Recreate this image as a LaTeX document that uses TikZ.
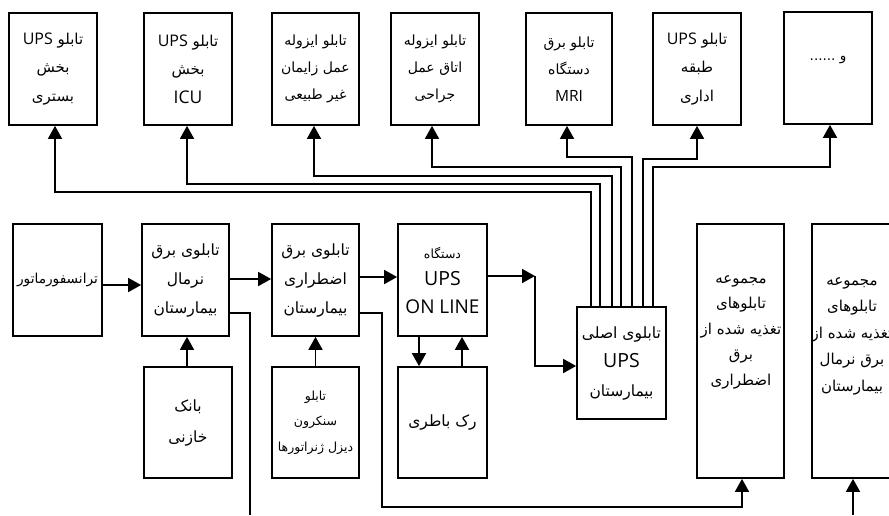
\documentclass[tikz,border=0pt]{standalone}
\usepackage{fontspec}
\setmainfont{Open Sans}
\newfontfamily\arabicfont[Script=Arabic]{DejaVu Sans}
\newfontfamily\latfont{Open Sans}
\TeXXeTstate=1
\usetikzlibrary{arrows.meta}
\newcommand\fa[1]{{\arabicfont\beginR #1\endR}}
\newcommand\la[2][16]{\beginL{\latfont\fontsize{#1}{#1}\selectfont #2}\endL}
\newcommand\fsz[2]{\fontsize{#1}{#2}\selectfont}
\begin{document}
\begin{tikzpicture}[x=1pt,y=-1pt,
  box/.style={draw, line width=1.7pt, rectangle, inner sep=0pt, align=center,
    font=\fsz{15}{28.5}},
  smallbox/.style={box, font=\fsz{14}{27}},
  ln/.style={line width=1.7pt},
  arr/.style={line width=1.7pt, -{Triangle[length=13pt,width=14pt]}},
  txt/.style={inner sep=0pt, align=center}
]
\useasboundingbox (0,0) rectangle (889,515);
\clip (0,0) rectangle (889,515);

% top row
\node[box, minimum width=88pt, minimum height=112pt] (b1) at (53,69)
  {\fa{تابلو \la{UPS}}\\ \fa{بخش}\\ \fa{بستری}};
\node[box, minimum width=88pt, minimum height=112pt] (b2) at (188,69)
  {\fa{تابلو \la{UPS}}\\ \fa{بخش}\\ \la[17.5]{ICU}};
\node[smallbox, minimum width=87pt, minimum height=112pt] (b3) at (315.5,69)
  {\fa{تابلو ایزوله}\\ \fa{عمل زایمان}\\ \fa{غیر طبیعی}};
\node[smallbox, minimum width=88pt, minimum height=112pt] (b4) at (435,69)
  {\fa{تابلو ایزوله}\\ \fa{اتاق عمل}\\ \fa{جراحی}};
\node[smallbox, minimum width=86pt, minimum height=112pt] (b5) at (569,69)
  {\fa{تابلو برق}\\ \fa{دستگاه}\\ \la[15.5]{MRI}};
\node[box, minimum width=88pt, minimum height=112pt] (b6) at (697,69)
  {\fa{تابلو \la{UPS}}\\ \fa{طبقه}\\ \fa{اداری}};
\node[box, minimum width=88pt, minimum height=112pt] (b7) at (828,68) {};
\node[txt, font=\fsz{13.5}{13.5}] (b7t) at (828,60) {\fa{و ......}};

% middle row
\node[box, minimum width=89pt, minimum height=112pt, font=\fsz{13.7}{28}] (tr) at (57.5,280)
  {\fa{ترانسفورماتور}};
\node[box, minimum width=87pt, minimum height=112pt, font=\fsz{15.5}{29}] (nrm) at (185.5,280)
  {\fa{تابلوی برق}\\ \fa{نرمال}\\ \fa{بیمارستان}};
\node[box, minimum width=87pt, minimum height=112pt, font=\fsz{15.5}{29}] (emg) at (315.5,280)
  {\fa{تابلوی برق}\\ \fa{اضطراری}\\ \fa{بیمارستان}};
\node[box, minimum width=89pt, minimum height=112pt, font=\fsz{12.5}{27.5}] (ups) at (442.5,280)
  {\fa{دستگاه}\\ \la[19.5]{UPS}\\ \la[19]{ON LINE}};

% bottom row
\node[box, minimum width=88pt, minimum height=111pt, font=\fsz{15.5}{31}] (bank) at (188,422.5)
  {\fa{بانک}\\ \fa{خازنی}};
\node[box, minimum width=87pt, minimum height=111pt, font=\fsz{12.5}{25.5}] (syn) at (315.5,422.5)
  {\fa{تابلو}\\ \fa{سنکرون}\\ \fa{دیزل ژنراتورها}};
\node[box, minimum width=89pt, minimum height=111pt, font=\fsz{15.5}{20}] (rack) at (442.5,422.5)
  {\fa{رک باطری}};

% main UPS panel
\node[box, minimum width=89pt, minimum height=112pt, font=\fsz{15.5}{29}] (pnl) at (621.5,363)
  {\fa{تابلوی اصلی}\\ \la[19.5]{UPS}\\ \fa{بیمارستان}};

% collections
\node[box, minimum width=87pt, minimum height=254pt] (ec) at (740.5,351) {};
\node[txt, font=\fsz{15}{25.5}] (ect) at (741,332)
  {\fa{مجموعه}\\ \fa{تابلوهای}\\ \fa{تغذیه شده از}\\ \fa{برق}\\ \fa{اضطراری}};
\node[box, minimum width=88pt, minimum height=254pt] (nc) at (856,351) {};
\begin{scope}
  \clip (813,225) rectangle (889,477);
  \node[txt, font=\fsz{15}{26.5}] (nct) at (852,336)
    {\fa{مجموعه}\\ \fa{تابلوهای}\\ \fa{تغذیه شده از}\\ \fa{برق نرمال}\\ \fa{بیمارستان}};
\end{scope}

% main chain
\draw[arr] (tr.east |- 0,285) -- (nrm.west |- 0,285);
\draw[arr] (nrm.east |- 0,279) -- (emg.west |- 0,279);
\draw[arr] (emg.east |- 0,277) -- (ups.west |- 0,277);
\coordinate (j) at (535,276);
\draw[arr] (ups.east |- j) -- (j);
\draw[arr] (j) |- (pnl.west |- 0,366);
\draw[arr] (bank.north -| 187,0) -- (nrm.south -| 187,0);
\draw[arr] (syn.north) -- (emg.south);
\draw[arr] (ups.south -| 419,0) -- (rack.north -| 419,0);
\draw[arr] (rack.north -| 462,0) -- (ups.south -| 462,0);

% outgoing feeders
\coordinate (nout) at (250,515);
\draw[ln] (nrm.east |- 0,313) -| (nout);
\draw[arr] (emg.east |- 0,313) -| (382,507) -| (ec.south -| 742,0);
\coordinate (ncin) at (853,515);
\draw[arr] (ncin) -- (nc.south -| ncin);

% UPS panel to top boards
\draw[arr] ([xshift=15pt]pnl.north west) -- ++(0,-114) -| ([xshift=2pt]b1.south);
\draw[arr] ([xshift=24pt]pnl.north west) -- ++(0,-122) -| ([xshift=-1pt]b2.south);
\draw[arr] ([xshift=36pt]pnl.north west) -- ++(0,-130) -| ([xshift=-1.5pt]b3.south);
\draw[arr] ([xshift=45pt]pnl.north west) -- ++(0,-139) -| ([xshift=-3pt]b4.south);
\draw[arr] ([xshift=56pt]pnl.north west) -- ++(0,-149) -| ([xshift=-2pt]b5.south);
\draw[arr] ([xshift=67pt]pnl.north west) -- ++(0,-147) -| (b6.south);
\draw[arr] ([xshift=77pt]pnl.north west) -- ++(0,-139) -| ([xshift=2pt]b7.south);
\end{tikzpicture}
\end{document}
